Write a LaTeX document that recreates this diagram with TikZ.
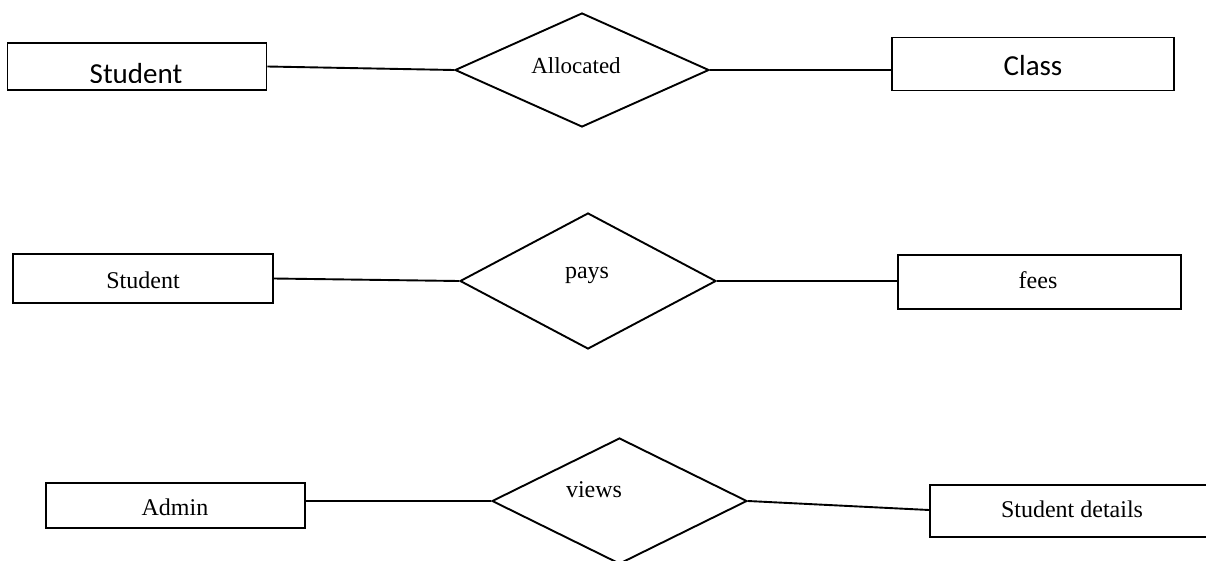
\documentclass[tikz,border=0pt]{standalone}
\usepackage{fontspec}
\setmainfont{Liberation Serif}
\newfontfamily\calib{Carlito}
\usetikzlibrary{shapes.geometric}
\tikzset{
  ent/.style={draw, line width=1.9pt, rectangle, inner sep=0pt},
  rel/.style={draw, line width=1.9pt, diamond, inner sep=0pt},
  lbl/.style={inner sep=0pt, anchor=base, font=\fontsize{24}{28}\selectfont},
  clbl/.style={inner sep=0pt, anchor=base, font=\calib\fontsize{29}{32}\selectfont},
  conn/.style={line width=1.9pt}
}
\begin{document}
\begin{tikzpicture}[x=1pt,y=-1pt]
\useasboundingbox (0,0) rectangle (1206,560);
\clip (0,0) rectangle (1206,560);
% row 1
\node[ent, minimum width=259pt, minimum height=47pt] (s1) at (137,66.5) {};
\begin{scope}
\clip (s1.north west) rectangle ([yshift=8.5pt]s1.south east);
\node[clbl] (s1t) at (136,83.5) {Student};
\end{scope}
\node[rel, minimum width=254pt, minimum height=114pt] (d1) at (582,70) {};
\node[lbl, font=\fontsize{23}{28}\selectfont] (d1t) at (576,73) {Allocated};
\node[ent, minimum width=282pt, minimum height=53pt] (c1) at (1033,64) {};
\node[clbl] (c1t) at (1033,75) {Class};
\draw[conn] (s1.east) -- (d1.west);
\draw[conn] (d1.east) -- (d1.east -| c1.west);
% row 2
\node[ent, minimum width=260pt, minimum height=49pt] (s2) at (143,278.5) {};
\node[lbl] (s2t) at (143,288) {Student};
\node[rel, minimum width=256pt, minimum height=136pt] (d2) at (588,281) {};
\node[lbl] (d2t) at (587,278) {pays};
\node[ent, minimum width=283pt, minimum height=54pt] (f2) at (1039.5,282) {};
\node[lbl] (f2t) at (1038,288) {fees};
\draw[conn] (s2.east) -- (d2.west);
\draw[conn] (d2.east) -- (d2.east -| f2.west);
% row 3
\node[ent, minimum width=259pt, minimum height=45pt] (a3) at (175.5,505.5) {};
\node[lbl] (a3t) at (175,515) {Admin};
\node[rel, minimum width=255pt, minimum height=126pt] (d3) at (619.5,501) {};
\node[lbl] (d3t) at (594,497) {views};
\node[ent, minimum width=278pt, minimum height=52pt] (sd3) at (1069,511) {};
\node[lbl] (sd3t) at (1072,517) {Student details};
\draw[conn] (a3.east |- d3.west) -- (d3.west);
\draw[conn] (d3.east) -- ([yshift=1pt]sd3.west);
\end{tikzpicture}
\end{document}
